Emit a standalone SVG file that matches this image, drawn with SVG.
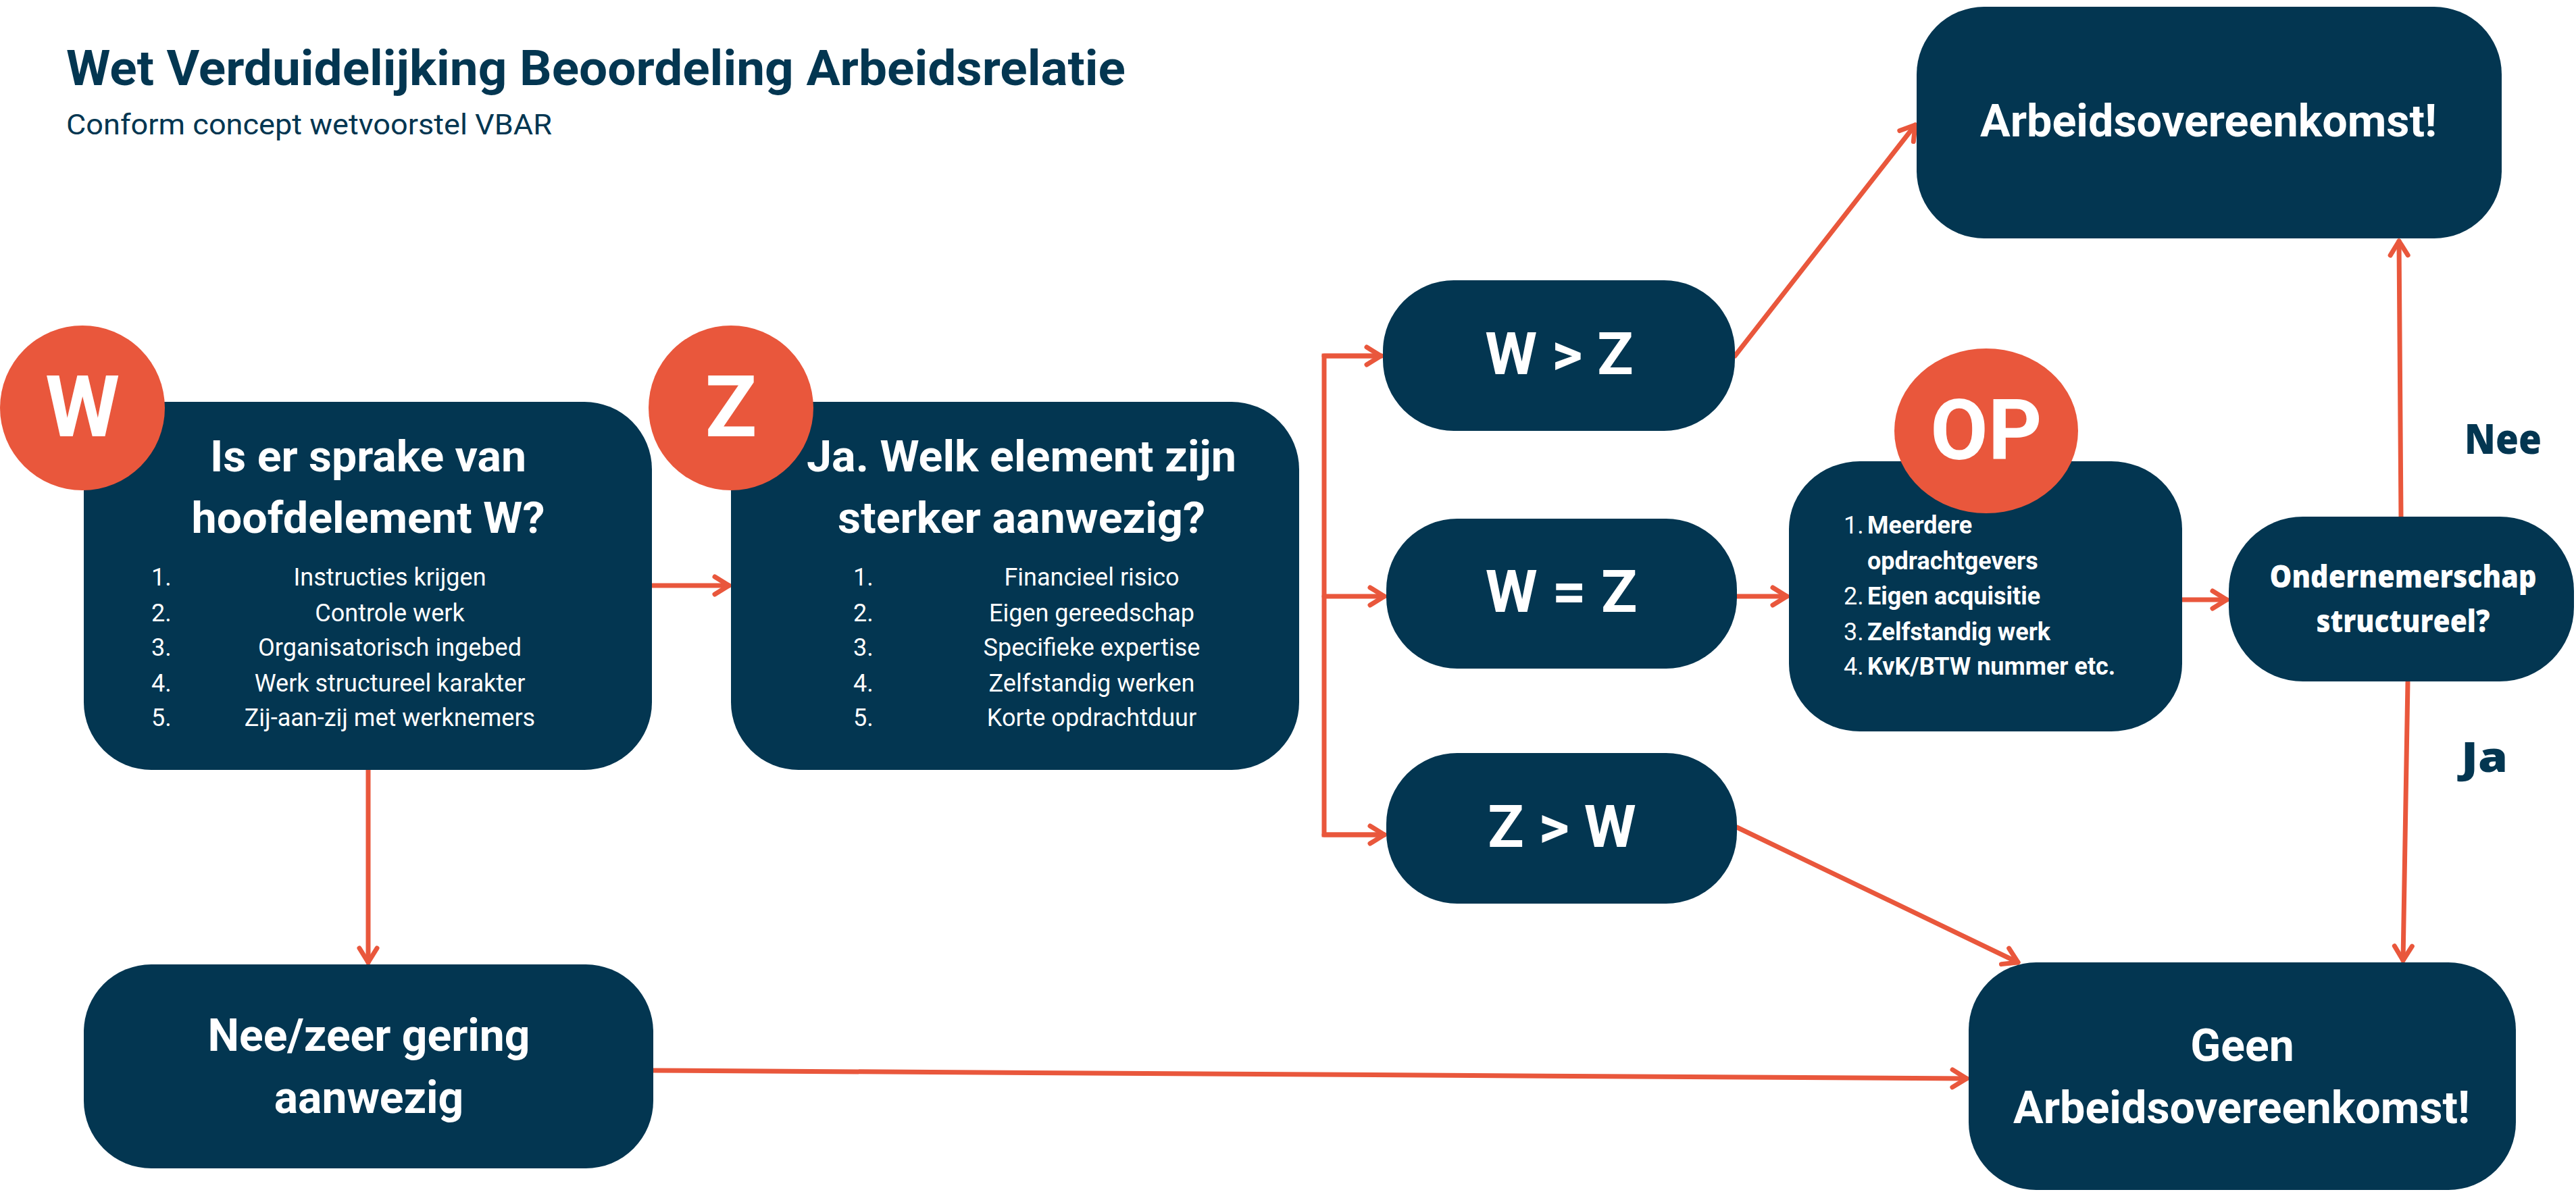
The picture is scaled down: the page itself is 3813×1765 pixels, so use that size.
<svg xmlns="http://www.w3.org/2000/svg" width="3813" height="1765" viewBox="0 0 3813 1765">
<style>
.box{fill:#033651}
.dot{fill:#E9573C}
.conn{stroke:#E9573C;stroke-width:7;fill:none;stroke-linecap:round}
.arr{marker-end:url(#ah)}
.t{font-family:Roboto,'Liberation Sans',sans-serif;fill:#fff}
.h{font-weight:700;text-anchor:middle}
.li{font-size:36px;font-weight:400}
.lc{text-anchor:middle}
.badge{font-family:Roboto,'Liberation Sans',sans-serif;font-weight:700;fill:#fff;text-anchor:middle}
.alt{font-family:'Open Sans','Liberation Sans',sans-serif;font-weight:800}
</style>
<defs>
<marker id="ah" viewBox="-30 -20 40 40" markerWidth="40" markerHeight="40" refX="0" refY="0" orient="auto" markerUnits="userSpaceOnUse">
<path d="M-21,-13 L0,0 L-21,13" fill="none" stroke="#E9573C" stroke-width="7" stroke-linecap="round" stroke-linejoin="round"/>
</marker>
</defs>
<rect width="3813" height="1765" fill="#fff"/>

<g id="title">
<text x="98" y="126" font-family="Roboto,'Liberation Sans',sans-serif" font-weight="700" font-size="72" fill="#033651" textLength="1568" lengthAdjust="spacingAndGlyphs">Wet Verduidelijking Beoordeling Arbeidsrelatie</text>
<text x="98" y="199" font-family="Roboto,'Liberation Sans',sans-serif" font-weight="400" font-size="43" fill="#033651" textLength="719" lengthAdjust="spacingAndGlyphs">Conform concept wetvoorstel VBAR</text>
</g>

<g id="connectors">
<line class="conn arr" x1="966" y1="867" x2="1079" y2="867"/>
<line class="conn arr" x1="545" y1="1140" x2="545" y2="1425"/>
<polyline class="conn" points="2045,527 1960,527 1960,1236 2049,1236"/>
<line class="conn arr" x1="1960" y1="527" x2="2044" y2="527"/>
<line class="conn arr" x1="1960" y1="883" x2="2049" y2="883"/>
<line class="conn arr" x1="1960" y1="1236" x2="2049" y2="1236"/>
<line class="conn arr" x1="2571" y1="883" x2="2645" y2="883"/>
<line class="conn arr" x1="3230" y1="888" x2="3296" y2="888"/>
<line class="conn arr" x1="2568" y1="527" x2="2835" y2="185"/>
<line class="conn arr" x1="2571" y1="1225" x2="2987" y2="1425"/>
<line class="conn arr" x1="967" y1="1585" x2="2911" y2="1597"/>
<line class="conn arr" x1="3554" y1="765" x2="3551" y2="357"/>
<line class="conn arr" x1="3564" y1="1010" x2="3557" y2="1422"/>
</g>

<g id="node-w">
<rect class="box" x="124" y="595" width="841" height="545" rx="100" ry="100"/>
<circle class="dot" cx="122" cy="604" r="122"/>
<text class="badge" x="122" y="646" font-size="126">W</text>
<text class="t h" x="545" y="698" font-size="64" textLength="468" lengthAdjust="spacingAndGlyphs">Is er sprake van</text>
<text class="t h" x="545" y="789" font-size="64" textLength="523" lengthAdjust="spacingAndGlyphs">hoofdelement W?</text>
<text class="t li" x="224" y="867">1.</text>
<text class="t li" x="224" y="920">2.</text>
<text class="t li" x="224" y="971">3.</text>
<text class="t li" x="224" y="1024">4.</text>
<text class="t li" x="224" y="1075">5.</text>
<text class="t li lc" x="577" y="867">Instructies krijgen</text>
<text class="t li lc" x="577" y="920">Controle werk</text>
<text class="t li lc" x="577" y="971">Organisatorisch ingebed</text>
<text class="t li lc" x="577" y="1024">Werk structureel karakter</text>
<text class="t li lc" x="577" y="1075">Zij-aan-zij met werknemers</text>
</g>

<g id="node-z">
<rect class="box" x="1082" y="595" width="841" height="545" rx="100" ry="100"/>
<circle class="dot" cx="1082" cy="604" r="122"/>
<text class="badge" x="1082" y="646" font-size="126">Z</text>
<text class="t h" x="1512" y="698" font-size="64" textLength="636" lengthAdjust="spacingAndGlyphs">Ja. Welk element zijn</text>
<text class="t h" x="1512" y="789" font-size="64" textLength="544" lengthAdjust="spacingAndGlyphs">sterker aanwezig?</text>
<text class="t li" x="1263" y="867">1.</text>
<text class="t li" x="1263" y="920">2.</text>
<text class="t li" x="1263" y="971">3.</text>
<text class="t li" x="1263" y="1024">4.</text>
<text class="t li" x="1263" y="1075">5.</text>
<text class="t li lc" x="1616" y="867">Financieel risico</text>
<text class="t li lc" x="1616" y="920">Eigen gereedschap</text>
<text class="t li lc" x="1616" y="971">Specifieke expertise</text>
<text class="t li lc" x="1616" y="1024">Zelfstandig werken</text>
<text class="t li lc" x="1616" y="1075">Korte opdrachtduur</text>
</g>

<g id="node-wgz">
<rect class="box" x="2047" y="415" width="521" height="223" rx="105" ry="105"/>
<text class="t h" x="2308" y="554" font-size="88">W &gt; Z</text>
</g>
<g id="node-wiz">
<rect class="box" x="2052" y="768" width="519" height="222" rx="105" ry="105"/>
<text class="t h" x="2311" y="906" font-size="88">W = Z</text>
</g>
<g id="node-zgw">
<rect class="box" x="2052" y="1115" width="519" height="223" rx="105" ry="105"/>
<text class="t h" x="2312" y="1254" font-size="88">Z &gt; W</text>
</g>

<g id="node-op">
<rect class="box" x="2648" y="683" width="582" height="400" rx="105" ry="100"/>
<ellipse class="dot" cx="2940" cy="638" rx="136" ry="122"/>
<text class="badge" x="2940" y="680" font-size="124">OP</text>
<text class="t li" x="2729" y="790">1.</text>
<text class="t li" x="2729" y="895">2.</text>
<text class="t li" x="2729" y="948">3.</text>
<text class="t li" x="2729" y="999">4.</text>
<text class="t" x="2764" y="790" font-size="36" font-weight="700">Meerdere</text>
<text class="t" x="2764" y="843" font-size="36" font-weight="700">opdrachtgevers</text>
<text class="t" x="2764" y="895" font-size="36" font-weight="700">Eigen acquisitie</text>
<text class="t" x="2764" y="948" font-size="36" font-weight="700">Zelfstandig werk</text>
<text class="t" x="2764" y="999" font-size="36" font-weight="700">KvK/BTW nummer etc.</text>
</g>

<g id="node-ondernemerschap">
<rect class="box" x="3299" y="765" width="511" height="244" rx="110" ry="110"/>
<text class="alt" x="3557" y="870" font-size="46" fill="#fff" text-anchor="middle" textLength="395" lengthAdjust="spacingAndGlyphs">Ondernemerschap</text>
<text class="alt" x="3557" y="936" font-size="46" fill="#fff" text-anchor="middle" textLength="257" lengthAdjust="spacingAndGlyphs">structureel?</text>
</g>

<g id="node-arbeid">
<rect class="box" x="2837" y="10" width="866" height="343" rx="100" ry="100"/>
<text class="t h" x="3269" y="202" font-size="66" textLength="676" lengthAdjust="spacingAndGlyphs">Arbeidsovereenkomst!</text>
</g>

<g id="node-nee">
<rect class="box" x="124" y="1428" width="843" height="302" rx="100" ry="100"/>
<text class="t h" x="546" y="1556" font-size="66">Nee/zeer gering</text>
<text class="t h" x="546" y="1648" font-size="66">aanwezig</text>
</g>

<g id="node-geen">
<rect class="box" x="2914" y="1425" width="810" height="337" rx="100" ry="100"/>
<text class="t h" x="3319" y="1571" font-size="66">Geen</text>
<text class="t h" x="3318" y="1663" font-size="66" textLength="676" lengthAdjust="spacingAndGlyphs">Arbeidsovereenkomst!</text>
</g>

<g id="labels">
<text class="alt" x="3648" y="672" font-size="62" fill="#033651" textLength="114" lengthAdjust="spacingAndGlyphs">Nee</text>
<text class="alt" x="3643" y="1143" font-size="62" fill="#033651" textLength="69" lengthAdjust="spacingAndGlyphs">Ja</text>
</g>
</svg>
